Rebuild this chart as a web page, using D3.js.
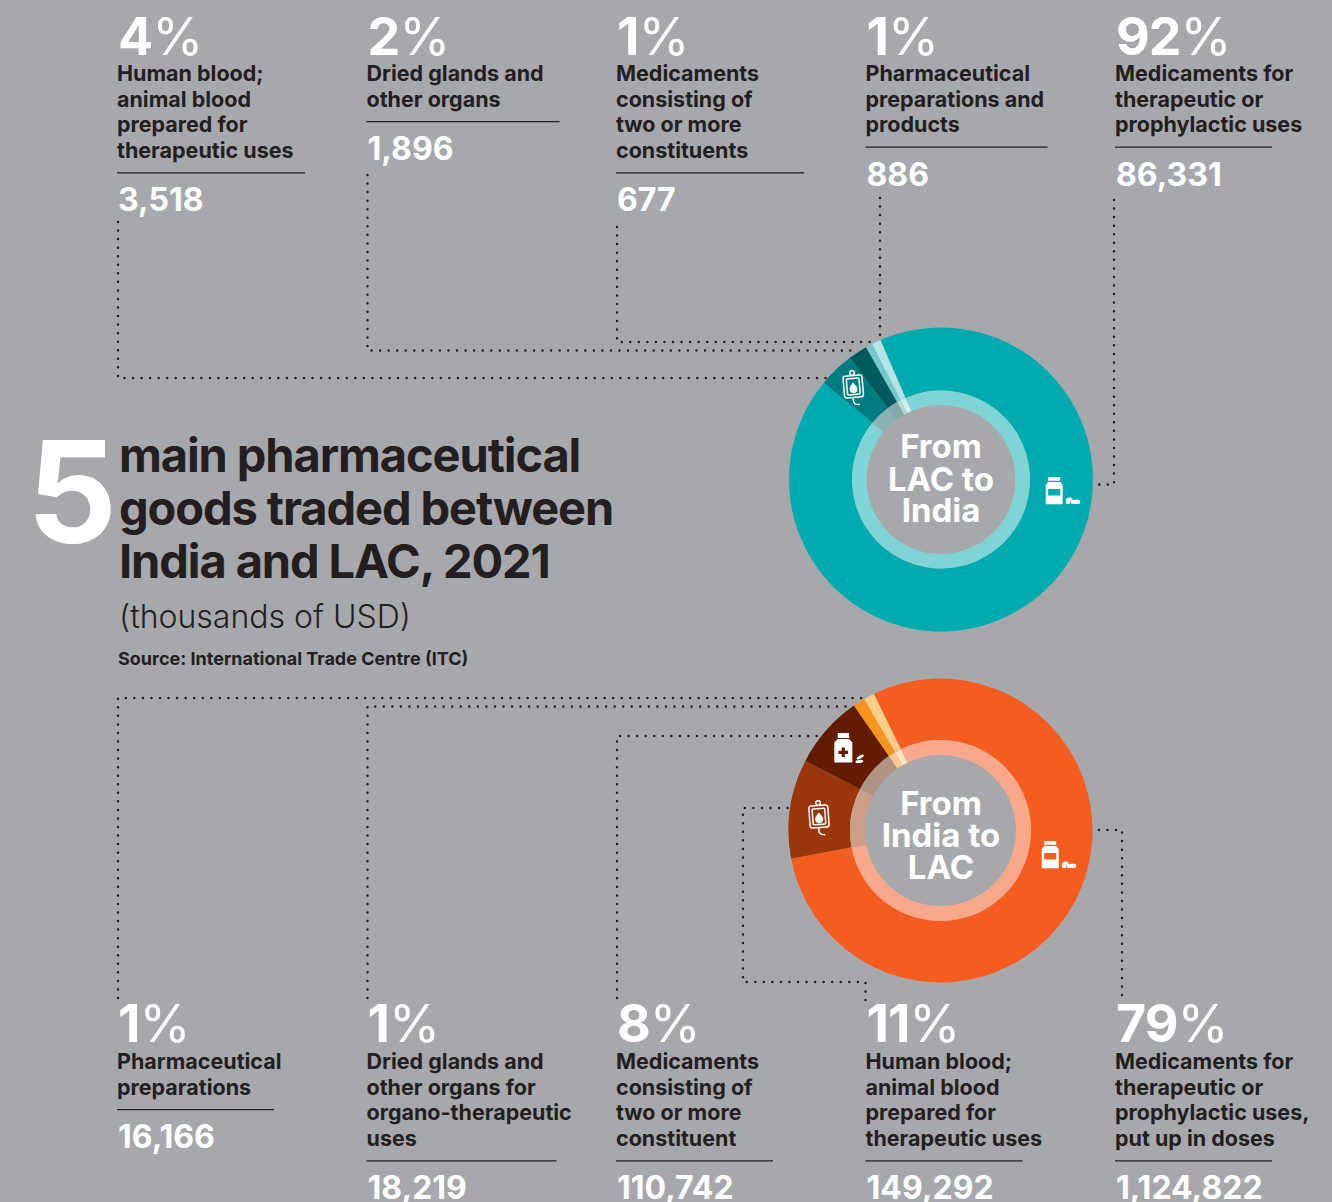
<!DOCTYPE html>
<html><head><meta charset="utf-8">
<script src="https://cdn.jsdelivr.net/npm/d3@7"></script>
<style>
html,body{margin:0;padding:0;background:#a7a8ab;overflow:hidden}
svg{display:block}
text{font-family:Inter,"Noto Sans",sans-serif}
</style></head><body>
<svg id="c" width="1332" height="1202"></svg>
<script>
// ---- data
const topPercents = ["4%","2%","1%","1%","92%"];
const topLabels = [
  ["Human blood;","animal blood","prepared for","therapeutic uses"],
  ["Dried glands and","other organs"],
  ["Medicaments","consisting of","two or more","constituents"],
  ["Pharmaceutical","preparations and","products"],
  ["Medicaments for","therapeutic or","prophylactic uses"]
];
const topValues = [3518,1896,677,886,86331];
const bottomPercents = ["1%","1%","8%","11%","79%"];
const bottomLabels = [
  ["Pharmaceutical","preparations"],
  ["Dried glands and","other organs for","organo-therapeutic","uses"],
  ["Medicaments","consisting of","two or more","constituent"],
  ["Human blood;","animal blood","prepared for","therapeutic uses"],
  ["Medicaments for","therapeutic or","prophylactic uses,","put up in doses"]
];
const bottomValues = [16166,18219,110742,149292,1124822];

// ---- styles & layout
const ink="#231f20", W="#ffffff";
const topFill=["#007c80","#005a5e","#74c9cc","#b5e2e4","#00abb0"];
const topRing=["#88b2b3","#84a9aa","#b0dcdd","#d3eced","#80d4d6"];
const botFill=["#fcce8a","#f7941e","#641c00","#9b360a","#f55d20"];
const botRing=["#fde3bd","#fac98c","#b09284","#cc9f88","#f9a98b"];
const svg=d3.select("#c");
const colX=d3.scaleLinear().domain([0,4]).range([117,1115]);
const fmt=d3.format(",");
const topRuleW=[188,193,188,182,157], botRuleW=[157,190,157,157,157];

function column(i,pct,lines,val,ruleW,pctY,firstY){
  const x=colX(i), g=svg.append("g");
  const t=g.append("text").attr("x",x+1).attr("y",pctY).attr("fill",W).attr("font-size",52).attr("font-weight",700).attr("letter-spacing",-1);
  t.append("tspan").text(pct.replace("%",""));
  t.append("tspan").text("%").attr("font-weight",400);
  const lh=25.6;
  lines.forEach((s,k)=>g.append("text").attr("x",x).attr("y",firstY+k*lh).attr("fill",ink).attr("font-size",21.5).attr("font-weight",700).text(s));
  const ry=firstY+(lines.length-1)*lh+15;
  g.append("line").attr("x1",x).attr("x2",x+ruleW).attr("y1",ry).attr("y2",ry).attr("stroke",ink).attr("stroke-width",1.2);
  g.append("text").attr("x",x+1).attr("y",ry+38.5).attr("fill",W).attr("font-size",32).attr("font-weight",700).text(fmt(val));
}
topValues.forEach((v,i)=>column(i,topPercents[i],topLabels[i],v,topRuleW[i],55,81));
bottomValues.forEach((v,i)=>column(i,bottomPercents[i],bottomLabels[i],v,botRuleW[i],1042,1069));

// ---- connectors
const connectors=[
 [[118,222],[118,378],[827,378]],
 [[367.5,175],[367.5,350.5],[853,350.5]],
 [[617,227],[617,342],[870,342]],
 [[880,198],[880,336]],
 [[1114,200],[1114,484.5],[1095,484.5]],
 [[118,998],[118,698],[867,698]],
 [[367.5,998],[367.5,706.5],[850,706.5]],
 [[617,998],[617,736],[817,736]],
 [[865.5,1000],[865.5,982],[743,982],[743,808],[790,808]],
 [[1122,995],[1122,830],[1095,830]]
];
const line=d3.line();
svg.append("g").selectAll("path").data(connectors).join("path").attr("d",line)
  .attr("fill","none").attr("stroke",ink).attr("stroke-width",2.5).attr("stroke-linecap","round").attr("stroke-dasharray","0 8.55");

// ---- donuts
function drawDonut(cx,cy,ordered,fills,rings,startDeg,radii){
  const g=svg.append("g").attr("transform",`translate(${cx},${cy})`);
  const a0=startDeg*Math.PI/180;
  const arcs=d3.pie().sort(null).startAngle(a0).endAngle(a0+2*Math.PI)(ordered);
  const outer=d3.arc().innerRadius(radii.inner).outerRadius(radii.outer);
  const ring=d3.arc().innerRadius(radii.ringIn).outerRadius(radii.inner);
  g.selectAll("path.o").data(arcs).join("path").attr("class","o").attr("d",outer).attr("fill",(d,i)=>fills[i]);
  g.selectAll("path.r").data(arcs).join("path").attr("class","r").attr("d",ring).attr("fill",(d,i)=>rings[i]);
  return g;
}
// top: main, blood, glands, meds, preparations
drawDonut(941,479.5,[topValues[4],topValues[0],topValues[1],topValues[2],topValues[3]],
  [topFill[4],topFill[0],topFill[1],topFill[2],topFill[3]],
  [topRing[4],topRing[0],topRing[1],topRing[2],topRing[3]],-23.5,{outer:152,inner:89,ringIn:74.5});
// bottom: main, blood, meds, glands, preparations
drawDonut(940.5,830.5,[bottomValues[4],bottomValues[3],bottomValues[2],bottomValues[1],bottomValues[0]],
  [botFill[4],botFill[3],botFill[2],botFill[1],botFill[0]],
  [botRing[4],botRing[3],botRing[2],botRing[1],botRing[0]],-26,{outer:152,inner:90.5,ringIn:75.5});

function centerText(cx,ys,lines){
  lines.forEach((s,i)=>svg.append("text").attr("x",cx).attr("y",ys[i]).attr("text-anchor","middle").attr("fill",W)
    .attr("font-size",33).attr("font-weight",700).text(s));
}
centerText(941,[458,491,522],["From","LAC to","India"]);
centerText(941,[815,847,879],["From","India to","LAC"]);

// ---- icons
function bottle(x,y,windowFill){
  const g=svg.append("g").attr("transform",`translate(${x},${y})`).attr("fill",W);
  g.append("rect").attr("x",2.5).attr("y",0).attr("width",12).attr("height",3.8).attr("rx",.5);
  g.append("path").attr("d","M2.5 5H14.5L17 8V26Q17 27.2 15.8 27.2H1.2Q0 27.2 0 26V8Z");
  g.append("rect").attr("x",2.5).attr("y",12).attr("width",12).attr("height",6.5).attr("fill",windowFill);
  g.append("path").attr("d","M20 24.5Q20 21 23.5 20.5Q26 20 27 22Q24 23 24 27H22Q20 27 20 24.5Z");
  g.append("rect").attr("x",24.8).attr("y",22.8).attr("width",9.8).attr("height",4.2).attr("rx",2.1);
}
function bag(x,y,rot){
  const g=svg.append("g").attr("transform",`translate(${x},${y}) rotate(${rot})`).attr("fill","none").attr("stroke",W).attr("stroke-width",1.5);
  g.append("circle").attr("cy",-14).attr("r",2.3);
  g.append("path").attr("d","M-7 -11.5H7Q9.5 -11.5 9.5 -9V8Q9.5 10.5 7 10.5H-7Q-9.5 10.5 -9.5 8V-9Q-9.5 -11.5 -7 -11.5Z");
  g.append("rect").attr("x",-6.3).attr("y",-8.5).attr("width",12.6).attr("height",16).attr("rx",1);
  g.append("path").attr("d","M0 -4.5Q4 0 4 2A4 4 0 0 1 -4 2Q-4 0 0 -4.5Z").attr("fill",W).attr("stroke","none");
  g.append("path").attr("d","M-1 10.5V14Q-1 18 5 18");
}
bottle(1045.7,477,"#00abb0");
bottle(1041.7,841,"#f55d20");
bag(853.3,387,-5);
bag(819,817,-4);
(function(){
  const g=svg.append("g").attr("transform","translate(834.3,733)").attr("fill",W);
  g.append("rect").attr("x",3.4).attr("width",11.4).attr("height",5);
  g.append("path").attr("d","M3.4 6H14.8L18 9.5V29.5H0V9.5Z");
  g.append("path").attr("d","M7.4 14.5H10.6V17.7H13.8V20.9H10.6V24.1H7.4V20.9H4.2V17.7H7.4Z").attr("fill","#641c00");
  g.append("ellipse").attr("cx",26).attr("cy",24).attr("rx",4).attr("ry",1.5).attr("transform","rotate(-30 26 24)");
  g.append("ellipse").attr("cx",25).attr("cy",28.5).attr("rx",4).attr("ry",1.5).attr("transform","rotate(-8 25 28.5)");
})();

// ---- title
svg.append("text").attr("x",27).attr("y",543).attr("fill",W).attr("font-size",141).attr("font-weight",700).text("5");
["main pharmaceutical","goods traded between","India and LAC, 2021"].forEach((s,i)=>
  svg.append("text").attr("x",119).attr("y",472+i*53).attr("fill",ink).attr("font-size",47).attr("font-weight",700).attr("letter-spacing",-1.1).text(s));
svg.append("text").attr("x",119).attr("y",628).attr("fill",ink).attr("font-size",32).attr("font-weight",300).text("(thousands of USD)");
svg.append("text").attr("x",118).attr("y",665).attr("fill",ink).attr("font-size",18).attr("font-weight",700).text("Source: International Trade Centre (ITC)");
</script>
</body></html>
